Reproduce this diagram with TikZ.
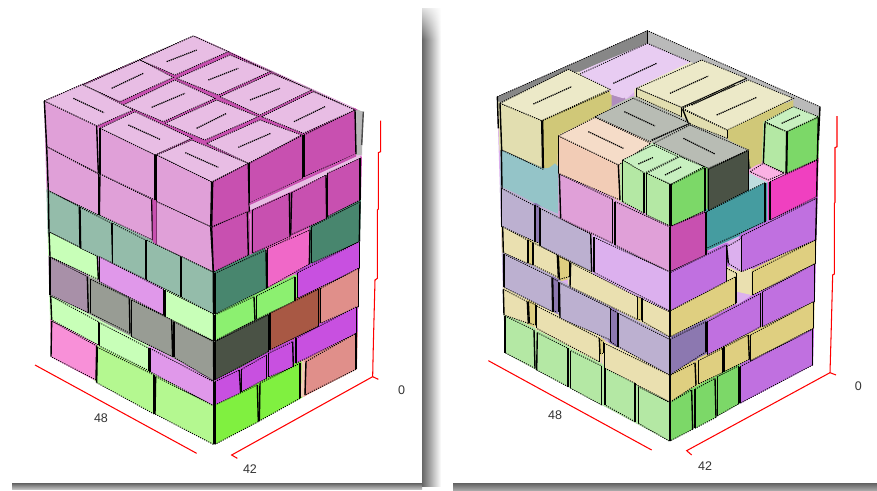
\documentclass[tikz,border=0pt]{standalone}
\usepackage{fontspec}
\usetikzlibrary{fadings}
\setmainfont{Liberation Sans}
\definecolor{tpk}{HTML}{E8BDE4}
\definecolor{lpk}{HTML}{E0A0D8}
\definecolor{mag}{HTML}{C850B0}
\definecolor{sea}{HTML}{94BCAA}
\definecolor{dgr}{HTML}{48866E}
\definecolor{hpk}{HTML}{F068C8}
\definecolor{pur}{HTML}{C850E0}
\definecolor{lim}{HTML}{8CF070}
\definecolor{sal}{HTML}{E08F8A}
\definecolor{brn}{HTML}{A85844}
\definecolor{slt}{HTML}{4A5245}
\definecolor{pal}{HTML}{C8FFB8}
\definecolor{lil}{HTML}{E098EA}
\definecolor{mve}{HTML}{A890A8}
\definecolor{gry}{HTML}{989C94}
\definecolor{rse}{HTML}{F890D8}
\definecolor{lgn}{HTML}{B4F890}
\definecolor{bgn}{HTML}{80F040}
\definecolor{ktp}{HTML}{ECE9C8}
\definecolor{klf}{HTML}{E2DEB0}
\definecolor{krt}{HTML}{D0C878}
\definecolor{lac}{HTML}{E8CCF2}
\definecolor{gtp}{HTML}{B8BCB4}
\definecolor{ptp}{HTML}{F5DCC8}
\definecolor{plf}{HTML}{F2CCB6}
\definecolor{gnt}{HTML}{C8F0C0}
\definecolor{gnl}{HTML}{B4E8A4}
\definecolor{gnr}{HTML}{7CD868}
\definecolor{blu}{HTML}{94C4C8}
\definecolor{tea}{HTML}{459CA0}
\definecolor{fus}{HTML}{F040C0}
\definecolor{vio}{HTML}{C070E0}
\definecolor{vlf}{HTML}{DCB0EE}
\definecolor{bgy}{HTML}{BCB0D0}
\definecolor{dvi}{HTML}{8C78B0}
\definecolor{kha}{HTML}{EAE0B0}
\definecolor{kdk}{HTML}{DFCF80}
\tikzset{
  dotline/.style={black,line width=.9pt,dash pattern=on 1.1pt off 1.2pt},
  vertline/.style={black,line width=1.4pt},
  markline/.style={black,line width=1.2pt,dash pattern=on 1.3pt off .8pt},
  axisline/.style={red,line width=1.05pt},
  dimlabel/.style={font=\fontsize{12.5}{13}\selectfont,text=black!80},
  zoomA/.style={shift={(0pt,0pt)},x=.33333pt,y=-.33333pt},
  zoomB/.style={shift={(0pt,-240pt)},x=.33333pt,y=-.33333pt},
  zoomC/.style={shift={(440pt,0pt)},x=.33333pt,y=-.33333pt},
  zoomD/.style={shift={(440pt,-240pt)},x=.33333pt,y=-.33333pt}
}
\newif\ifbase
% fill: in the base pass every face is grown a little so that no white gap stays
\newcommand\fp[2]{\ifbase\fill[#1,draw=#1,line width=4.5pt,line join=round] #2;\else\fill[#1] #2;\fi}
\newcommand\dr[2]{\ifbase\else\draw[#1] #2;\fi}
% side face: top-left, top-right, bottom-right, bottom-left
\newcommand\fq[5]{\fp{#1}{#2--#3--#4--#5--cycle}\dr{dotline}{#2--#3}\dr{dotline}{#4--#5}\dr{vertline}{#3--#4}\dr{vertline}{#5--#2}}
% top face, all edges dotted
\newcommand\tq[5]{\fp{#1}{#2--#3--#4--#5--cycle}\dr{dotline}{#2--#3--#4--#5--cycle}}
\newcommand\mk[2]{\dr{markline}{#1--#2}}

\newcommand\leftupper{%
\fp{mag}{(133,303)--(580,108)--(1065,330)--(635,546)--cycle}
\dr{dotline}{(133,303)--(580,108)--(1065,330)}
\tq{tpk}{(133,303)}{(248,253)}{(400,330)}{(290,378)}
\tq{tpk}{(300,385)}{(405,335)}{(575,415)}{(465,465)}
\tq{tpk}{(470,465)}{(575,420)}{(745,490)}{(635,546)}
\tq{tpk}{(250,255)}{(420,180)}{(520,232)}{(360,305)}
\tq{tpk}{(370,315)}{(525,240)}{(645,295)}{(490,365)}
\tq{tpk}{(495,370)}{(650,300)}{(775,350)}{(615,420)}
\tq{tpk}{(620,430)}{(780,360)}{(905,405)}{(745,490)}
\tq{tpk}{(420,180)}{(580,108)}{(685,155)}{(525,225)}
\tq{tpk}{(530,235)}{(690,165)}{(810,215)}{(655,285)}
\tq{tpk}{(660,290)}{(815,220)}{(935,270)}{(780,345)}
\tq{tpk}{(785,350)}{(940,275)}{(1065,330)}{(910,400)}
\mk{(220,295)}{(312,338)} \mk{(385,375)}{(480,418)} \mk{(556,458)}{(655,502)}
\mk{(335,265)}{(430,220)} \mk{(455,322)}{(555,280)} \mk{(590,385)}{(680,340)} \mk{(715,442)}{(812,400)}
\mk{(500,185)}{(590,150)} \mk{(625,240)}{(715,205)} \mk{(750,300)}{(840,265)} \mk{(882,365)}{(975,320)}
\fp{black!28}{(1065,330)--(1090,335)--(1085,465)--(1065,465)--cycle}
\dr{vertline,black!70}{(1090,335)--(1085,435)}
\fq{lpk}{(133,303)}{(290,378)}{(295,520)}{(140,440)}
\fq{lpk}{(300,385)}{(465,465)}{(465,600)}{(300,522)}
\fq{lpk}{(470,465)}{(635,546)}{(632,680)}{(470,605)}
\fq{lpk}{(140,440)}{(295,522)}{(295,645)}{(145,572)}
\fq{lpk}{(300,522)}{(455,598)}{(458,720)}{(298,645)}
\fq{lpk}{(470,605)}{(632,680)}{(640,816)}{(470,735)}
\fp{mag}{(458,598)--(470,605)--(470,735)--(458,725)--cycle}
\fq{mag}{(638,546)}{(745,490)}{(748,635)}{(635,680)}
\fq{mag}{(748,490)}{(908,405)}{(908,535)}{(748,610)}
\fq{mag}{(912,405)}{(1065,330)}{(1068,462)}{(912,530)}
\fp{mag}{(748,610)--(1068,462)--(1068,470)--(748,620)--cycle}
\fp{tpk}{(750,615)--(1080,465)--(1080,480)--(752,630)--cycle}
\fq{mag}{(635,682)}{(742,635)}{(745,765)}{(640,816)}
\fq{mag}{(758,630)}{(868,580)}{(870,710)}{(758,760)}
\fq{mag}{(875,578)}{(978,525)}{(980,655)}{(872,705)}
\fq{mag}{(982,520)}{(1080,475)}{(1080,600)}{(982,650)}
}
\newcommand\leftlower{%
\fq{pal}{(147,-25)}{(292,48)}{(295,118)}{(150,50)}
\fq{sea}{(145,-148)}{(238,-100)}{(240,22)}{(147,-25)}
\fq{sea}{(240,-98)}{(335,-50)}{(338,70)}{(242,25)}
\fq{sea}{(338,-50)}{(437,0)}{(437,118)}{(338,70)}
\fq{sea}{(440,0)}{(543,50)}{(543,170)}{(440,120)}
\fq{sea}{(545,50)}{(640,97)}{(640,222)}{(545,172)}
\fq{dgr}{(645,100)}{(798,30)}{(800,145)}{(645,222)}
\fq{hpk}{(803,25)}{(930,-30)}{(928,72)}{(803,143)}
\fq{dgr}{(935,-40)}{(1080,-115)}{(1078,5)}{(935,70)}
\fq{pur}{(893,98)}{(1078,5)}{(1078,85)}{(893,175)}
\fq{lim}{(645,225)}{(762,170)}{(765,240)}{(645,302)}
\fq{lim}{(770,168)}{(885,110)}{(885,183)}{(770,238)}
\fq{sal}{(962,145)}{(1075,85)}{(1075,200)}{(962,250)}
\fq{brn}{(810,220)}{(955,148)}{(955,258)}{(810,330)}
\fq{slt}{(645,305)}{(805,225)}{(805,335)}{(645,420)}
\fq{pur}{(888,295)}{(1070,200)}{(1070,280)}{(888,370)}
\fq{pur}{(645,425)}{(718,390)}{(722,460)}{(645,497)}
\fq{pur}{(725,388)}{(800,345)}{(800,415)}{(725,455)}
\fq{pur}{(805,340)}{(878,305)}{(880,380)}{(805,412)}
\fp{plf}{(905,365)--(915,365)--(912,470)--(903,470)--cycle}
\fq{sal}{(918,365)}{(1068,280)}{(1068,388)}{(915,465)}
\fq{bgn}{(645,495)}{(772,435)}{(775,545)}{(645,613)}
\fq{bgn}{(780,430)}{(900,370)}{(900,475)}{(778,543)}
\fq{lil}{(298,50)}{(490,148)}{(490,225)}{(298,125)}
\fq{pal}{(495,150)}{(640,222)}{(640,302)}{(495,230)}
\fq{mve}{(150,52)}{(262,110)}{(265,218)}{(150,165)}
\fq{gry}{(272,118)}{(388,175)}{(390,280)}{(272,220)}
\fq{gry}{(395,180)}{(515,240)}{(518,350)}{(395,290)}
\fq{gry}{(522,245)}{(640,305)}{(640,422)}{(522,352)}
\fq{pal}{(152,168)}{(295,245)}{(295,315)}{(155,240)}
\fq{pal}{(298,248)}{(447,325)}{(447,392)}{(298,318)}
\fq{lil}{(450,325)}{(640,425)}{(640,497)}{(450,395)}
\fq{rse}{(155,243)}{(290,318)}{(288,420)}{(153,350)}
\fq{lgn}{(292,322)}{(462,405)}{(462,522)}{(290,428)}
\fq{lgn}{(467,410)}{(640,497)}{(640,613)}{(465,522)}
\dr{vertline}{(640,97)--(642,613)}
}
\newcommand\rightupper{%
\fp{black!47}{(172,290)--(622,92)--(622,130)--(180,310)--cycle}
\fp{black!27}{(622,92)--(1140,320)--(1135,350)--(622,130)--cycle}
\dr{dotline}{(172,290)--(622,92)--(1140,320)}
\dr{dotline}{(180,310)--(385,208)}
\dr{vertline}{(622,92)--(622,130)}
\fp{lac}{(420,222)--(622,130)--(750,185)--(585,265)--(550,295)--(515,285)--cycle}
\dr{dotline}{(420,222)--(622,130)--(750,185)}
\fp{vlf!80!black}{(515,285)--(550,298)--(515,320)--cycle}
\mk{(520,250)}{(650,190)}
\dr{vertline}{(172,290)--(175,385)}
\tq{ktp}{(180,310)}{(385,208)}{(510,268)}{(305,362)}
\fq{klf}{(180,310)}{(305,362)}{(308,505)}{(185,450)}
\fp{krt}{(308,362)--(510,272)--(510,342)--(460,355)--(355,405)--(352,500)--(310,505)--cycle}
\dr{dotline}{(308,362)--(510,272)} \dr{vertline}{(308,362)--(310,505)}
\fq{klf}{(590,265)}{(725,322)}{(725,350)}{(590,290)}
\fq{klf}{(728,328)}{(862,390)}{(862,415)}{(745,370)}
\tq{ktp}{(590,265)}{(785,180)}{(920,235)}{(725,322)}
\tq{ktp}{(728,325)}{(925,240)}{(1060,295)}{(862,390)}
\fp{krt}{(865,390)--(1060,300)--(1060,320)--(970,365)--(965,490)--(930,500)--(925,450)--(865,420)--cycle}
\dr{markline}{(728,322)--(920,235)}
\mk{(280,312)}{(395,260)} \mk{(690,280)}{(805,228)} \mk{(755,315)}{(885,255)} \mk{(830,345)}{(950,292)}
\fp{blu}{(188,452)--(320,510)--(345,490)--(355,500)--(355,635)--(188,562)--cycle}
\dr{dotline}{(188,452)--(310,508)} \dr{vertline}{(184,450)--(186,565)}
\fq{bgy}{(185,565)}{(285,618)}{(285,725)}{(185,680)}
\fq{dvi}{(285,615)}{(300,625)}{(300,730)}{(285,725)}
\fq{bgy}{(300,625)}{(452,702)}{(455,815)}{(300,738)}
\tq{gtp}{(465,350)}{(580,295)}{(750,370)}{(630,425)}
\tq{ptp}{(355,408)}{(465,352)}{(632,430)}{(535,495)}
\fq{plf}{(355,408)}{(535,495)}{(540,600)}{(355,520)}
\tq{gtp}{(640,430)}{(750,375)}{(925,450)}{(805,505)}
\fq{slt}{(805,508)}{(925,452)}{(925,570)}{(805,632)}
\dr{markline}{(635,420)--(750,370)}
\mk{(445,395)}{(550,445)} \mk{(553,335)}{(645,378)} \mk{(730,415)}{(825,462)}
\tq{gnt}{(548,480)}{(640,435)}{(715,470)}{(612,520)}
\fq{gnl}{(548,480)}{(612,518)}{(612,640)}{(548,605)}
\tq{gnt}{(620,520)}{(720,470)}{(792,500)}{(692,553)}
\fq{gnl}{(620,520)}{(690,553)}{(690,678)}{(620,645)}
\fq{gnr}{(695,553)}{(795,503)}{(795,632)}{(695,678)}
\mk{(595,492)}{(640,472)} \mk{(675,525)}{(725,500)}
\tq{gnt}{(975,365)}{(1060,320)}{(1135,350)}{(1040,395)}
\fq{gnl}{(975,368)}{(1040,395)}{(1038,520)}{(970,490)}
\fq{gnr}{(1042,395)}{(1135,352)}{(1132,478)}{(1040,520)}
\mk{(1025,370)}{(1080,345)}
\dr{vertline}{(1140,320)--(1135,420)}
\fq{lpk}{(358,522)}{(518,598)}{(518,730)}{(362,655)}
\fq{lpk}{(525,605)}{(688,680)}{(688,815)}{(525,735)}
\fq{mag}{(690,680)}{(798,635)}{(798,765)}{(690,815)}
\fq{tea}{(800,635)}{(975,548)}{(975,665)}{(800,745)}
\fp{blu!60!white}{(930,520)--(975,545)--(930,565)--cycle}
\fq{fus}{(990,545)}{(1132,480)}{(1130,590)}{(990,660)}
\tq{rse!70!white}{(930,515)}{(970,490)}{(1032,520)}{(985,540)}
\fq{vlf}{(860,740)}{(905,715)}{(905,815)}{(865,790)}
\fq{vio}{(905,708)}{(1130,595)}{(1127,720)}{(905,815)}
}
\newcommand\rightlower{%
\fq{kha}{(188,-40)}{(262,0)}{(262,70)}{(190,38)}
\fq{kdk}{(265,0)}{(278,8)}{(278,75)}{(265,70)}
\fq{kha}{(280,8)}{(352,45)}{(355,112)}{(280,75)}
\fq{kdk}{(355,48)}{(388,65)}{(388,110)}{(358,118)}
\fq{kha}{(392,68)}{(592,170)}{(592,238)}{(390,140)}
\fq{kdk}{(592,170)}{(606,175)}{(606,240)}{(592,238)}
\fq{kha}{(608,178)}{(688,215)}{(688,290)}{(608,245)}
\fq{vlf}{(462,-8)}{(688,95)}{(688,212)}{(462,97)}
\fq{vio}{(692,97)}{(860,15)}{(860,125)}{(692,212)}
\fq{kha}{(860,85)}{(890,100)}{(890,110)}{(860,125)}
\fp{kha}{(892,100)--(935,92)--(935,165)--(890,155)--cycle}
\fp{vlf}{(890,155)--(930,170)--(890,195)--cycle}
\fq{kdk}{(692,212)}{(888,110)}{(888,190)}{(692,290)}
\fq{kdk}{(938,95)}{(1127,0)}{(1127,70)}{(938,165)}
\fq{vio}{(968,155)}{(1123,72)}{(1123,185)}{(968,260)}
\fq{vio}{(802,245)}{(962,160)}{(962,260)}{(802,345)}
\fq{dvi}{(690,298)}{(798,245)}{(798,335)}{(690,405)}
\fq{kdk}{(932,285)}{(1120,185)}{(1120,265)}{(932,362)}
\fq{kdk}{(692,405)}{(765,368)}{(768,435)}{(692,485)}
\fq{kdk}{(775,362)}{(848,325)}{(848,398)}{(775,432)}
\fq{kdk}{(852,322)}{(925,285)}{(928,358)}{(852,395)}
\fq{vio}{(900,380)}{(1118,268)}{(1118,375)}{(900,490)}
\fq{gnr}{(690,487)}{(755,450)}{(758,568)}{(690,603)}
\fq{gnr}{(765,448)}{(825,415)}{(828,532)}{(765,565)}
\fq{gnr}{(832,410)}{(895,378)}{(895,492)}{(832,528)}
\fq{bgy}{(192,42)}{(336,112)}{(338,215)}{(192,142)}
\fq{dvi}{(338,115)}{(356,125)}{(356,215)}{(340,215)}
\fq{bgy}{(358,128)}{(512,205)}{(512,300)}{(360,235)}
\fq{dvi}{(512,208)}{(532,218)}{(532,320)}{(512,305)}
\fq{bgy}{(535,220)}{(688,298)}{(688,405)}{(535,320)}
\fq{kha}{(190,148)}{(262,185)}{(265,250)}{(192,225)}
\fq{kdk}{(265,185)}{(288,195)}{(288,255)}{(268,250)}
\fq{kha}{(290,198)}{(478,295)}{(478,365)}{(290,265)}
\fq{kdk}{(478,298)}{(490,305)}{(490,340)}{(480,340)}
\fq{kha}{(493,310)}{(688,405)}{(688,485)}{(493,385)}
\fq{gnl}{(195,228)}{(282,270)}{(285,385)}{(195,338)}
\fq{gnl}{(292,278)}{(384,325)}{(384,440)}{(290,390)}
\fq{gnl}{(392,332)}{(485,378)}{(485,495)}{(392,445)}
\fq{gnl}{(495,385)}{(585,430)}{(585,545)}{(495,495)}
\fq{gnl}{(595,440)}{(688,487)}{(688,603)}{(595,550)}
\dr{vertline}{(688,212)--(688,603)}
}
\begin{document}
\begin{tikzpicture}
\useasboundingbox (0,0) rectangle (877pt,-490pt);
\fill[white] (0,0) rectangle (877pt,-490pt);
% panel shadows
\shade[left color=black!60,right color=white] (422pt,-8pt) rectangle (441pt,-486pt);
\fill[white,path fading=south] (421.5pt,0pt) rectangle (442pt,-40pt);
\shade[top color=black!62,bottom color=black!25] (12pt,-483pt) rectangle (422pt,-489pt);
\shade[top color=black!62,bottom color=black!35] (453pt,-483pt) rectangle (877pt,-490pt);

% base pass: grown faces, clipped to the outline of each stack
\basetrue
\begin{scope}
\clip (44pt,-101pt)--(195pt,-36pt)--(363pt,-112pt)--(357pt,-369pt)--(213pt,-444pt)--(51pt,-357pt)--cycle;
\begin{scope}[zoomA]\leftupper\end{scope}
\begin{scope}[zoomB]\leftlower\end{scope}
\end{scope}
\begin{scope}
\clip (497pt,-97pt)--(647pt,-31pt)--(820pt,-107pt)--(813pt,-365pt)--(669pt,-441pt)--(505pt,-353pt)--cycle;
\fill[vlf] (497pt,-97pt)--(647pt,-31pt)--(820pt,-107pt)--(813pt,-365pt)--(669pt,-441pt)--(505pt,-353pt)--cycle;
\begin{scope}[zoomC]\rightupper\end{scope}
\begin{scope}[zoomD]\rightlower\end{scope}
\end{scope}
% exact pass
\basefalse
\begin{scope}[zoomA]\leftupper\end{scope}
\begin{scope}[zoomB]\leftlower
\coordinate (la) at (105,375); \coordinate (lb) at (590,640);
\coordinate (lc) at (712,655); \coordinate (ld) at (695,645); \coordinate (le) at (1118,410); \coordinate (lf) at (1135,418);
\draw[axisline] (la)--(lb);
\draw[axisline] (lc)--(ld)--(le)--(lf);
\draw[axisline] (le)--(1120,315)--(1125,120)--(1132,115)--(1132,-90)--(1135,-93)--(1135,-262)--(1142,-265)--(1142,-358);
\node[dimlabel] (lw) at (303,535) {48};
\node[dimlabel] (ld1) at (750,688) {42};
\node[dimlabel] (lh) at (1205,452) {0};
\end{scope}
\begin{scope}[zoomC]\rightupper\end{scope}
\begin{scope}[zoomD]\rightlower
\coordinate (ra) at (145,362); \coordinate (rb) at (635,630);
\coordinate (rc) at (755,645); \coordinate (rd) at (740,632); \coordinate (re) at (1170,398); \coordinate (rf) at (1188,405);
\draw[axisline] (ra)--(rb);
\draw[axisline] (rc)--(rd)--(re)--(rf);
\draw[axisline] (re)--(1173,295)--(1178,105)--(1183,102)--(1183,-110)--(1185,-113)--(1185,-277)--(1191,-280)--(1191,-372);
\node[dimlabel] (rw) at (345,525) {48};
\node[dimlabel] (rd1) at (795,678) {42};
\node[dimlabel] (rh) at (1255,440) {0};
\end{scope}
\end{tikzpicture}
\end{document}
